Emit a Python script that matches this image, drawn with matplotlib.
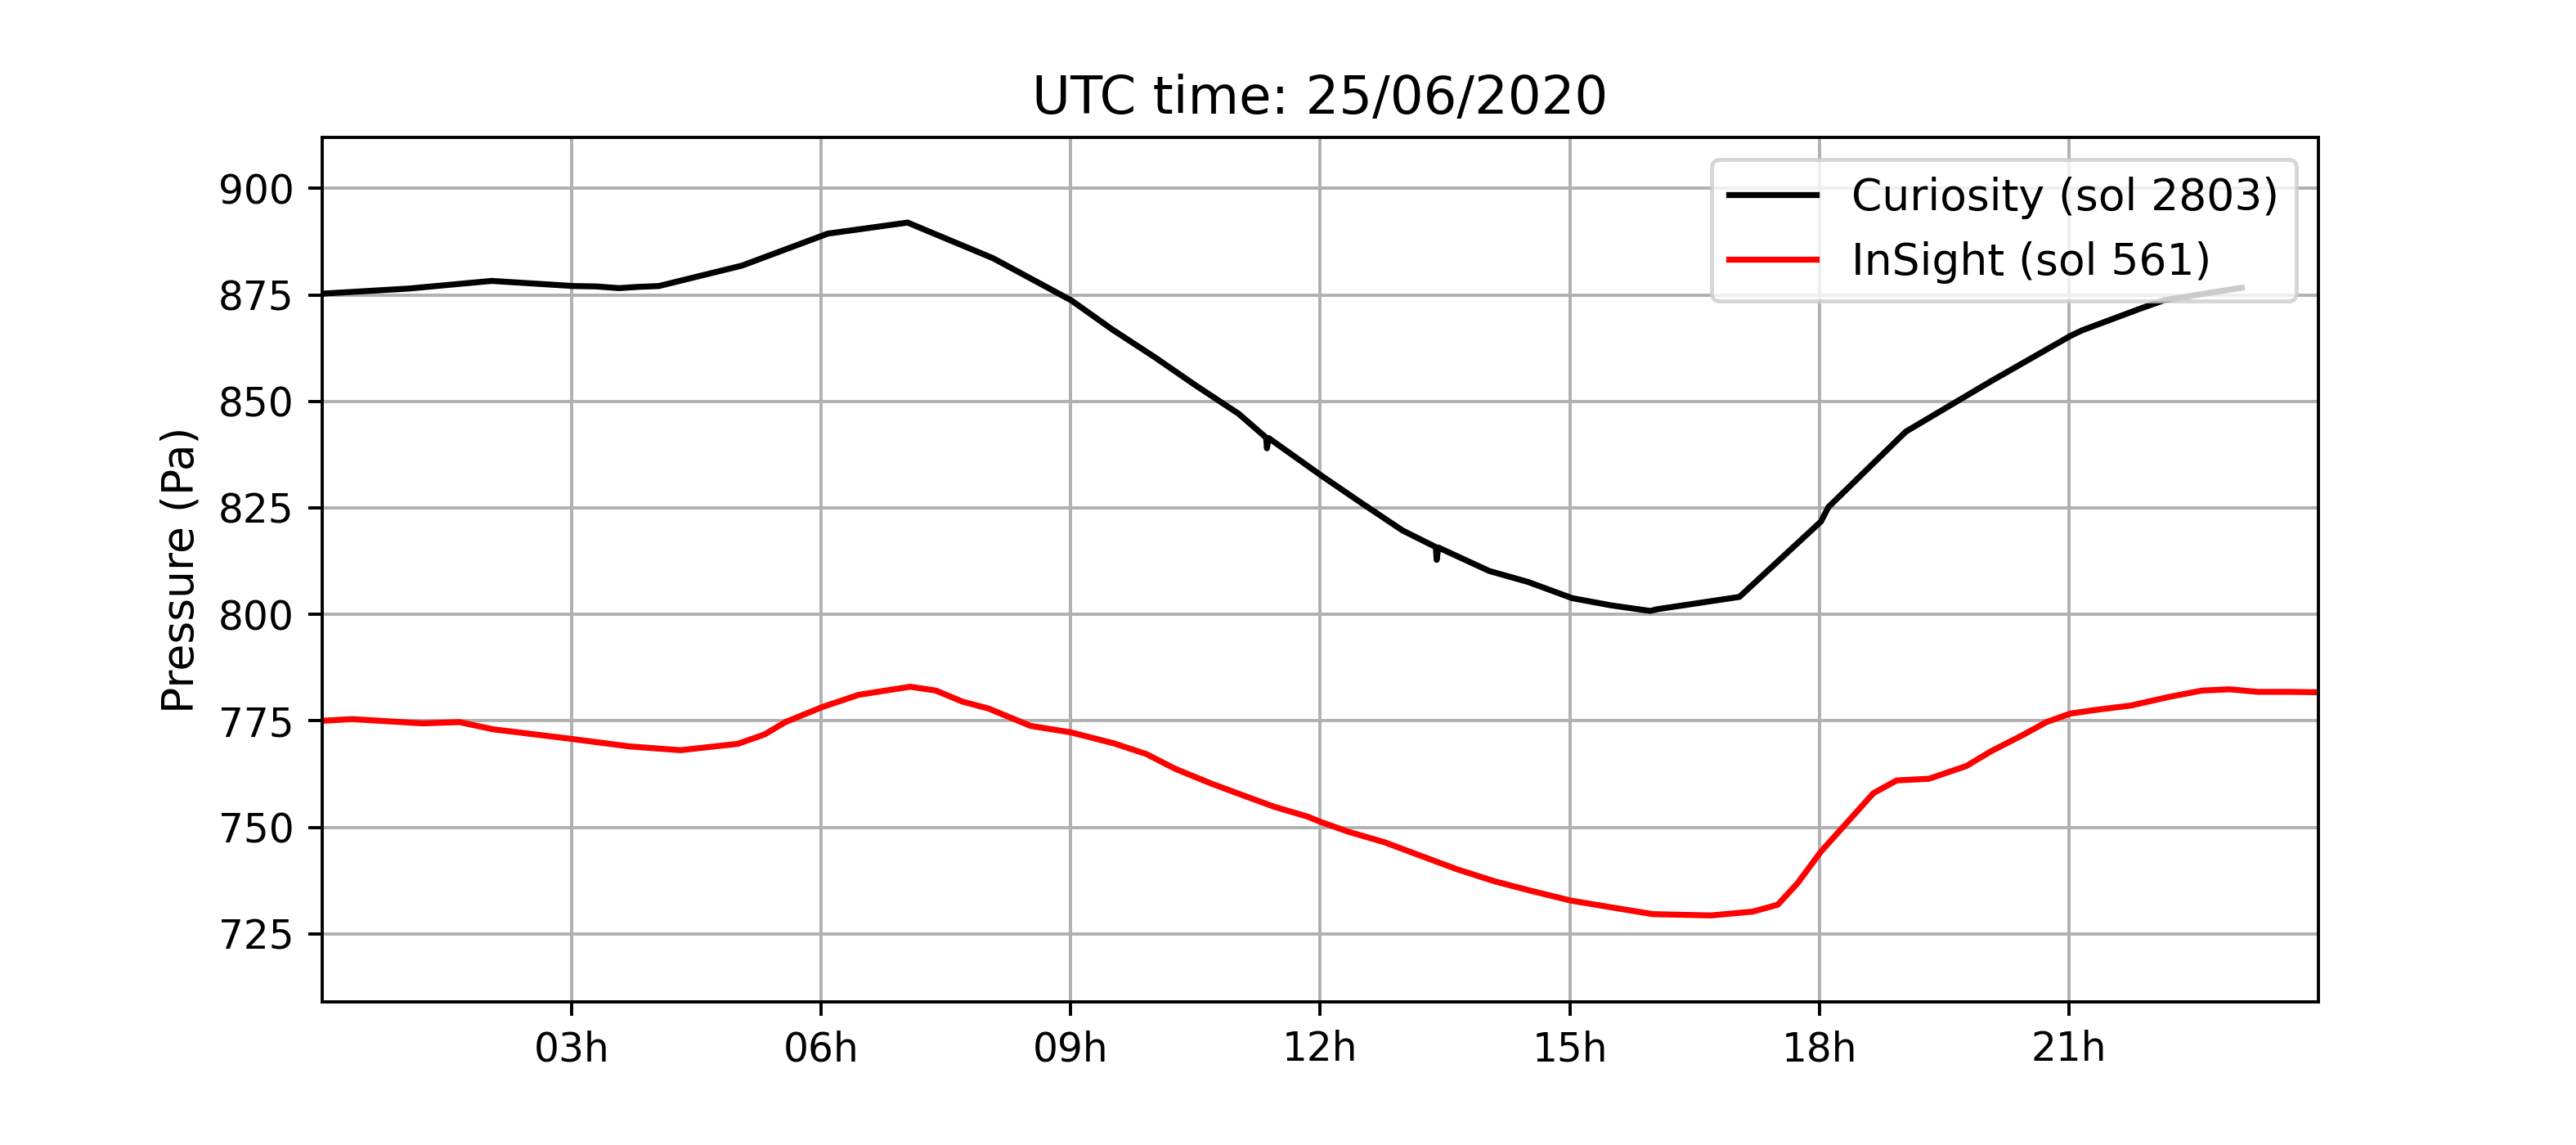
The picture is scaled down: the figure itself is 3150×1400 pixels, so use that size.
import numpy as np
import matplotlib.pyplot as plt

# Curiosity (sol 2803), hours UTC / pressure in Pa
curiosity_h = [0.0, 1.04, 2.04, 3.02, 3.3, 3.57, 3.8, 4.05, 5.05, 6.08, 7.04,
               8.07, 9.01, 9.5, 10.01, 10.5, 11.02, 11.35, 11.36, 11.38, 12.02,
               12.5, 12.99, 13.39, 13.40, 13.42, 14.03, 14.5, 15.03, 15.5, 15.97,
               16.05, 17.04, 18.02, 18.11, 19.04, 20.06, 21.02, 21.16, 21.86,
               22.15, 23.08]
curiosity_p = [875.3, 876.5, 878.3, 877.1, 877.0, 876.6, 876.9, 877.1, 881.9,
               889.4, 892.0, 883.6, 873.7, 866.9, 860.4, 853.8, 847.1, 841.5,
               839.0, 841.4, 832.5, 826.1, 819.7, 815.8, 812.8, 815.7, 810.2,
               807.6, 803.8, 802.1, 800.8, 801.2, 804.1, 821.8, 825.2, 842.9,
               854.7, 865.4, 866.7, 871.8, 873.8, 876.7]

# InSight (sol 561)
insight_h = [0.0, 0.36, 1.21, 1.65, 2.06, 2.94, 3.69, 4.31, 5.0, 5.32, 5.57,
             6.01, 6.45, 7.07, 7.38, 7.7, 8.01, 8.52, 9.0, 9.52, 9.91, 10.26,
             10.7, 11.1, 11.45, 11.85, 12.0, 12.33, 12.77, 13.21, 13.65, 14.1,
             14.53, 15.01, 15.5, 16.0, 16.7, 17.2, 17.5, 17.74, 18.02, 18.31,
             18.65, 18.93, 19.32, 19.77, 20.06, 20.45, 20.73, 21.02, 21.3,
             21.75, 22.2, 22.6, 22.93, 23.27, 23.66, 24.0]
insight_p = [775.0, 775.4, 774.4, 774.7, 773.0, 770.9, 769.0, 768.1, 769.6,
             771.8, 774.7, 778.2, 781.1, 783.0, 782.1, 779.5, 777.9, 773.8,
             772.3, 769.7, 767.2, 763.7, 760.2, 757.3, 754.8, 752.5, 751.3,
             749.0, 746.5, 743.3, 740.1, 737.3, 735.1, 732.8, 731.2, 729.6,
             729.3, 730.2, 731.8, 736.9, 744.3, 750.6, 758.0, 761.0, 761.4,
             764.4, 767.8, 771.7, 774.7, 776.7, 777.5, 778.6, 780.6, 782.1,
             782.4, 781.8, 781.8, 781.7]

xtick_h = [3, 6, 9, 12, 15, 18, 21]
xtick_labels = ['03h', '06h', '09h', '12h', '15h', '18h', '21h']

plt.rcParams['font.size'] = 11
plt.rcParams['xtick.labelsize'] = 10
plt.rcParams['ytick.labelsize'] = 10

fig = plt.figure(figsize=(9, 4))
ax = fig.add_subplot(111)
fig.subplots_adjust(left=0.125, right=0.9, top=0.88, bottom=0.125)

ax.plot(curiosity_h, curiosity_p, c='black', label='Curiosity (sol 2803)')
ax.plot(insight_h, insight_p, c='red', label='InSight (sol 561)')

ax.set_xlim(0, 24)
ax.set_ylim(709, 912)
ax.set_xticks(xtick_h)
ax.set_xticklabels(xtick_labels)
ax.set_yticks(np.arange(725, 901, 25))
ax.grid(True)
ax.set_ylabel('Pressure (Pa)')
ax.set_title('UTC time: 25/06/2020')
ax.legend(loc='upper right')

plt.savefig('out.png', dpi=350)
